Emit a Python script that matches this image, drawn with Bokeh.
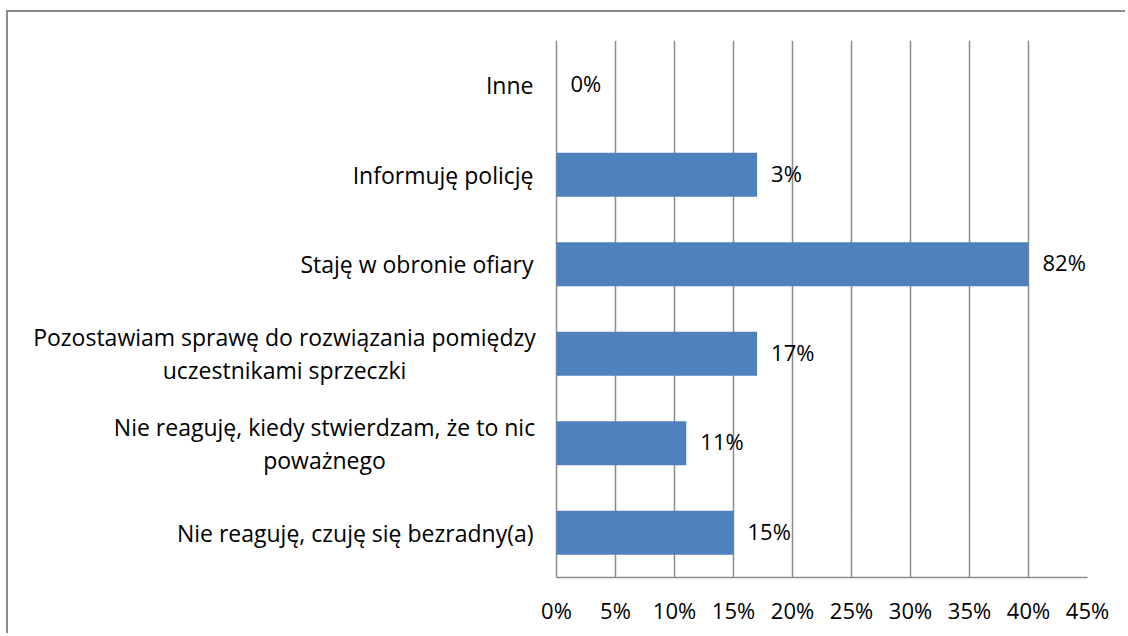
from bokeh.plotting import figure
from bokeh.models import FactorRange, Range1d, FixedTicker, PrintfTickFormatter, ColumnDataSource
from bokeh.core.properties import value
from bokeh.embed import file_html
from bokeh.resources import INLINE

categories = [
    "Inne",
    "Informuję policję",
    "Staję w obronie ofiary",
    "Pozostawiam sprawę do rozwiązania pomiędzy\nuczestnikami sprzeczki",
    "Nie reaguję, kiedy stwierdzam, że to nic\npoważnego",
    "Nie reaguję, czuję się bezradny(a)",
]
bar_values = [0, 17, 40, 17, 11, 15]
label_texts = ["0%", "3%", "82%", "17%", "11%", "15%"]
x_ticks = [0, 5, 10, 15, 20, 25, 30, 35, 40, 45]

FONT = "Open Sans"
GRID = "#8c8c8c"
CAT_SIZE = "23px"
STANDOFF = 23
# half widths (px) of the two-line label blocks, used to centre their lines
HALF_W = {categories[3]: 249, categories[4]: 209}

# layout: the frame spans the canvas width; the value axis (0..45) occupies its right part
W, H = 1119, 623
AXIS_LEFT_PX, AXIS_RIGHT_PX = 548, 1079
px_per_unit = (AXIS_RIGHT_PX - AXIS_LEFT_PX) / (x_ticks[-1] - x_ticks[0])
x_start = -AXIS_LEFT_PX / px_per_unit

p = figure(
    width=W, height=H,
    y_range=FactorRange(factors=list(reversed(categories)), range_padding=0),
    x_range=Range1d(x_start, x_ticks[-1]),
    output_backend="svg", toolbar_location=None,
    min_border_left=0, min_border_right=W - AXIS_RIGHT_PX, min_border_top=28, min_border_bottom=58,
)
p.styles = {"border-top": "2px solid #8c8c8c", "border-left": "2px solid #8c8c8c",
            "margin-left": "6px", "margin-top": "10px"}
p.outline_line_color = None
p.background_fill_color = "white"
p.border_fill_color = "white"

src = ColumnDataSource(dict(cat=categories, val=bar_values, lab=label_texts))
p.hbar(y="cat", right="val", left=0, height=0.49, source=src,
       fill_color="#4F81BD", line_color=None)

p.text(x="val", y="cat", text="lab", source=src, x_offset=14, y_offset=-2,
       text_align="left", text_baseline="middle",
       text_font=value(FONT), text_font_size="22px", text_color="black")

# category labels: single-line ones right-aligned, two-line ones centred as a block
single = [c for c in categories if "\n" not in c]
multi = [c for c in categories if "\n" in c]
src_single = ColumnDataSource(dict(cat=single, x=[0] * len(single)))
src_multi = ColumnDataSource(dict(cat=multi, x=[0] * len(multi),
                                  off=[-(STANDOFF + HALF_W[c]) for c in multi]))
p.text(x="x", y="cat", text="cat", source=src_single, x_offset=-STANDOFF,
       text_align="right", text_baseline="middle",
       text_font=value(FONT), text_font_size=CAT_SIZE, text_color="black")
p.text(x="x", y="cat", text="cat", source=src_multi, x_offset="off",
       text_align="center", text_baseline="middle", text_line_height=1.02,
       text_font=value(FONT), text_font_size=CAT_SIZE, text_color="black")

p.xaxis.ticker = FixedTicker(ticks=x_ticks)
p.xaxis.bounds = (x_ticks[0], x_ticks[-1])
p.xaxis.formatter = PrintfTickFormatter(format="%d%%")
p.xaxis.major_tick_line_color = None
p.xaxis.minor_tick_line_color = None
p.xaxis.axis_line_color = GRID
p.xaxis.axis_line_width = 1.5
p.xaxis.major_label_standoff = 11
p.xaxis.major_label_text_font = FONT
p.xaxis.major_label_text_font_size = "22px"
p.xaxis.major_label_text_color = "black"

p.yaxis.visible = False

p.xgrid.ticker = FixedTicker(ticks=x_ticks)
p.xgrid.grid_line_color = GRID
p.xgrid.grid_line_width = 1.5
p.ygrid.grid_line_color = None

open("out.html", "w").write(file_html(p, INLINE))
